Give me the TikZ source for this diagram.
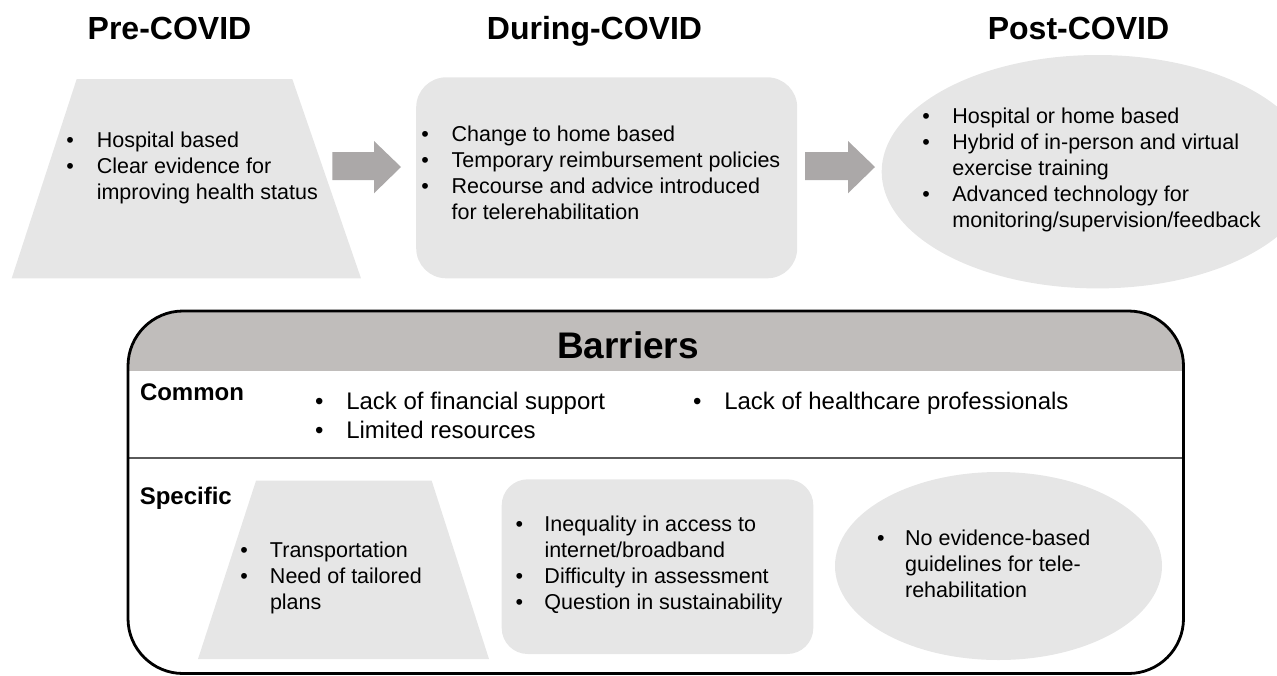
\documentclass[tikz,border=0pt]{standalone}
\usepackage{fontspec}
\setmainfont{Liberation Sans}
\usetikzlibrary{shapes.geometric}
\definecolor{shapefill}{RGB}{230,230,230}
\definecolor{headfill}{RGB}{192,189,187}
\definecolor{arrowfill}{RGB}{171,168,168}
\definecolor{sepline}{RGB}{90,90,90}
\newcommand{\bl}[1]{\makebox[#1][l]{\textbullet}}
\begin{document}
\begin{tikzpicture}[x=1pt,y=-1pt,
  title/.style={font=\fontsize{32}{38}\selectfont\bfseries, anchor=base, inner sep=0pt},
  body/.style={font=\fontsize{21.5}{26}\selectfont, anchor=base west, inner sep=0pt},
  bodybig/.style={font=\fontsize{24}{29}\selectfont, anchor=base west, inner sep=0pt},
  rowlabel/.style={font=\fontsize{24}{29}\selectfont\bfseries, anchor=base west, inner sep=0pt},
  blockarrow/.style={fill=arrowfill},
  softbox/.style={fill=shapefill, draw=none, rectangle, inner sep=0pt},
  softell/.style={fill=shapefill, draw=none, ellipse, inner sep=0pt}]
\useasboundingbox (0,0) rectangle (1277,675);

% ---------- top row ----------
\node[title] (pretitle) at (169.5,39.5) {Pre-COVID};
\node[title] (durtitle) at (594.5,39.5) {During-COVID};
\node[title] (posttitle) at (1078.5,39.5) {Post-COVID};

\fill[shapefill] (76.7,79) -- (292.3,79) -- (361,278.3) -- (11.7,278.3) -- cycle;
\node[softbox, rounded corners=30pt, minimum width=381pt, minimum height=201pt] (durbox) at (606.7,177.8) {};
\node[softell, minimum width=432pt, minimum height=233.4pt] (postell) at (1097.7,171.7) {};

\fill[blockarrow] (332.3,152) -- (374,152) -- (374,141) -- (401,167) -- (374,193.3) -- (374,180) -- (332.3,180) -- cycle;
\fill[blockarrow] (805,152) -- (848,152) -- (848,141) -- (875,167) -- (848,193.3) -- (848,180) -- (805,180) -- cycle;

\node[body] (pretext) at (66.2,147.7) {\begin{tabular}[t]{@{}l@{}l@{}}
\bl{30.4pt}&Hospital based\\
\bl{30.4pt}&Clear evidence for\\
&improving health status\end{tabular}};

\node[body] (durtext) at (421.2,141.7) {\begin{tabular}[t]{@{}l@{}l@{}}
\bl{30.3pt}&Change to home based\\
\bl{30.3pt}&Temporary reimbursement policies\\
\bl{30.3pt}&Recourse and advice introduced\\
&for telerehabilitation\end{tabular}};

\node[body] (posttext) at (922.2,123.3) {\begin{tabular}[t]{@{}l@{}l@{}}
\bl{30pt}&Hospital or home based\\
\bl{30pt}&Hybrid of in-person and virtual\\
&exercise training\\
\bl{30pt}&Advanced technology for\\
&monitoring/supervision/feedback\end{tabular}};

% ---------- barriers box ----------
\begin{scope}
\clip[rounded corners=55pt] (128,311) rectangle (1183.5,673.5);
\fill[headfill] (128,311) rectangle (1183.5,371);
\end{scope}
\draw[sepline, line width=1.3pt] (128,458) -- (1183.5,458);
\draw[black, line width=2.8pt, rounded corners=55pt] (128,311) rectangle (1183.5,673.5);

\node[font=\fontsize{37}{44}\selectfont\bfseries, anchor=base, inner sep=0pt] (barriers) at (628,358) {Barriers};

\node[rowlabel] (common) at (139.8,400) {Common};
\node[rowlabel] (specific) at (139.6,504) {Specific};

\node[bodybig] (commonA) at (314.8,409) {\begin{tabular}[t]{@{}l@{}l@{}}
\bl{31.3pt}&Lack of financial support\\
\bl{31.3pt}&Limited resources\end{tabular}};
\node[bodybig] (commonB) at (692.8,409) {\begin{tabular}[t]{@{}l@{}l@{}}
\bl{31.3pt}&Lack of healthcare professionals\end{tabular}};

\fill[shapefill] (256,480.7) -- (431.7,480.7) -- (489,659) -- (198,659) -- cycle;
\node[softbox, rounded corners=26pt, minimum width=311.6pt, minimum height=174.7pt] (specbox) at (657.5,566.65) {};
\node[softell, minimum width=327pt, minimum height=188pt] (specell) at (998.5,566) {};

\node[body] (spectrap) at (240.2,557.3) {\begin{tabular}[t]{@{}l@{}l@{}}
\bl{29.6pt}&Transportation\\
\bl{29.6pt}&Need of tailored\\
&plans\end{tabular}};

\node[body] (specboxtext) at (515.5,531.7) {\begin{tabular}[t]{@{}l@{}l@{}}
\bl{28.8pt}&Inequality in access to\\
&internet/broadband\\
\bl{28.8pt}&Difficulty in assessment\\
\bl{28.8pt}&Question in sustainability\end{tabular}};

\node[body] (specelltext) at (876.9,545) {\begin{tabular}[t]{@{}l@{}l@{}}
\bl{28pt}&No evidence-based\\
&guidelines for tele-\\
&rehabilitation\end{tabular}};
\end{tikzpicture}
\end{document}
